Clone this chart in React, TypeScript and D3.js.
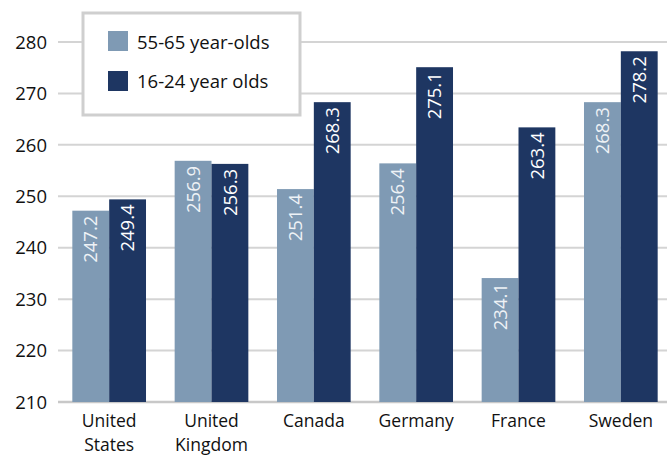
import React from "react";
import * as d3 from "d3";

const categories = ["United States", "United Kingdom", "Canada", "Germany", "France", "Sweden"];
const categoryLines = [["United", "States"], ["United", "Kingdom"], ["Canada"], ["Germany"], ["France"], ["Sweden"]];
const seriesNames = ["55-65 year-olds", "16-24 year olds"];
const olderValues = [247.2, 256.9, 251.4, 256.4, 234.1, 268.3];
const youngerValues = [249.4, 256.3, 268.3, 275.1, 263.4, 278.2];
const yTicks = [210, 220, 230, 240, 250, 260, 270, 280];
const colors = ["#7f9ab4", "#1e3662"];

export default function App() {
  const W = 667, H = 457;
  const font = "'Open Sans', sans-serif";
  const fs = 18.5;
  const catFs = 17.5;
  const y = d3.scaleLinear().domain([210, 280]).range([402, 42]);
  const x0 = d3.scaleBand<string>().domain(categories).range([58, 672]).paddingInner(0.28).paddingOuter(0.14);
  const x1 = d3.scaleBand<number>().domain([0, 1]).range([0, x0.bandwidth()]);
  const series = [olderValues, youngerValues];
  return (
    <svg width={W} height={H} style={{ position: "absolute", left: 0, top: 0, background: "#fff" }} fontFamily={font}>
      {yTicks.map((t) => (
        <g key={t}>
          <line x1={58} x2={W} y1={y(t)} y2={y(t)} stroke={t === 210 ? "#c8c8c8" : "#d4d4d4"} strokeWidth={t === 210 ? 2.5 : 2} />
          <text x={47} y={y(t)} dy="0.36em" textAnchor="end" fontSize={fs} fill="#111">{t}</text>
        </g>
      ))}
      {categories.map((c, i) => (
        <g key={c} transform={`translate(${x0(c)},0)`}>
          {series.map((vals, s) => {
            const bx = x1(s)!;
            const bw = x1.bandwidth();
            const top = y(vals[i]);
            return (
              <g key={s}>
                <rect x={bx} y={top} width={bw} height={y(210) - top} fill={colors[s]} />
                <text transform={`translate(${bx + bw / 2},${top + 5}) rotate(-90)`} textAnchor="end" dy="0.36em" fontSize={fs} fill={s === 0 ? "#eef2f6" : "#fff"}>
                  {vals[i].toFixed(1)}
                </text>
              </g>
            );
          })}
          <text x={x0.bandwidth() / 2} y={427} textAnchor="middle" fontSize={catFs} fill="#111">
            {categoryLines[i].map((ln, k) => (
              <tspan key={k} x={x0.bandwidth() / 2} dy={k === 0 ? 0 : 23.8}>{ln}</tspan>
            ))}
          </text>
        </g>
      ))}
      <g>
        <rect x={83} y={13} width={217} height={102} fill="#fff" stroke="#cfcfcf" strokeWidth={3} />
        {seriesNames.map((n, s) => (
          <g key={n}>
            <rect x={108} y={31 + s * 40} width={20} height={20} fill={colors[s]} />
            <text x={137} y={42 + s * 39} dy="0.36em" fontSize={fs} fill="#111">{n}</text>
          </g>
        ))}
      </g>
    </svg>
  );
}
